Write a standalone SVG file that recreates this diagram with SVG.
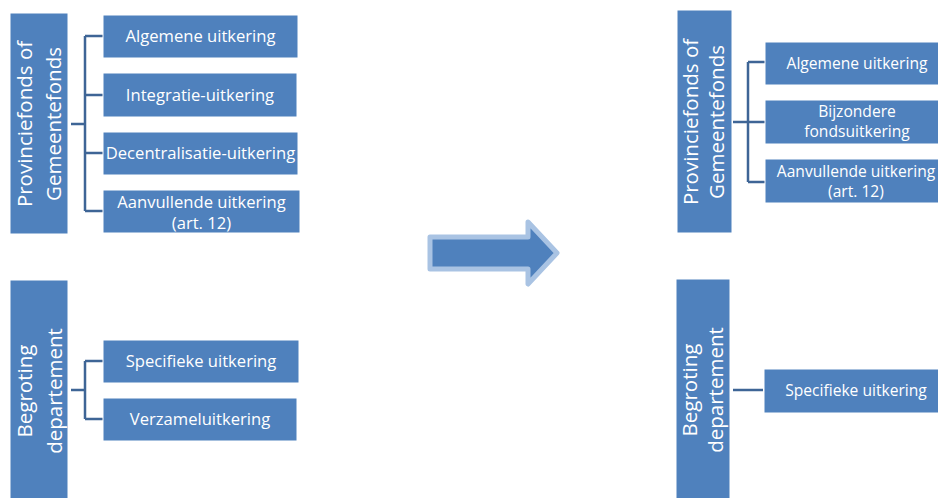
<svg xmlns="http://www.w3.org/2000/svg" width="938" height="498" viewBox="0 0 938 498">
<style>
.box{fill:#4F81BD;stroke:#FFFFFF;stroke-width:1}
.t{font-family:"Open Sans","Liberation Sans",sans-serif;font-size:16.6px;fill:#FFFFFF;text-anchor:middle}
.tr{font-family:"Open Sans","Liberation Sans",sans-serif;font-size:15.6px;fill:#FFFFFF;text-anchor:middle}
.v{font-family:"Open Sans","Liberation Sans",sans-serif;font-size:20.5px;fill:#FFFFFF;text-anchor:middle}
.c{fill:none;stroke:#3E6596;stroke-width:2.5}
</style>
<rect width="938" height="498" fill="#FFFFFF"/>
<g id="connectors">
<path class="c" d="M71,124 H85 M85,36 V211 M85,36 H103 M85,95 H103 M85,153 H103 M85,211 H103"/>
<path class="c" d="M71,390 H85 M85,361 V419 M85,361 H103 M85,419 H103"/>
<path class="c" d="M733,122 H748 M748,62 V182 M748,62 H765 M748,122 H765 M748,182 H765"/>
<path class="c" d="M733,390 H763"/>
</g>
<g id="left-provinciefonds">
<rect class="box" x="10" y="13" width="58" height="221"/>
<text class="v" transform="translate(32,124) rotate(-90)">Provinciefonds of</text>
<text class="v" transform="translate(61,124) rotate(-90)">Gemeentefonds</text>
</g>
<g id="left-algemene"><rect class="box" x="103" y="15" width="195" height="43"/><text class="t" x="200.5" y="42">Algemene uitkering</text></g>
<g id="left-integratie"><rect class="box" x="103" y="73" width="194" height="44"/><text class="t" x="200" y="100.5">Integratie-uitkering</text></g>
<g id="left-decentralisatie"><rect class="box" x="103" y="132" width="195" height="43"/><text class="t" x="200.5" y="159">Decentralisatie-uitkering</text></g>
<g id="left-aanvullende"><rect class="box" x="103" y="190" width="197" height="43"/><text class="t" x="201.5" y="207.5">Aanvullende uitkering</text><text class="t" x="201.5" y="228.5">(art. 12)</text></g>
<g id="left-begroting">
<rect class="box" x="10" y="280" width="58" height="220"/>
<text class="v" transform="translate(32,391) rotate(-90)">Begroting</text>
<text class="v" transform="translate(62,391) rotate(-90)">departement</text>
</g>
<g id="left-specifieke"><rect class="box" x="103" y="340" width="196" height="43"/><text class="t" x="201" y="367">Specifieke uitkering</text></g>
<g id="left-verzamel"><rect class="box" x="103" y="398" width="194" height="43"/><text class="t" x="200" y="425">Verzameluitkering</text></g>
<g id="arrow">
<path d="M430,237 H528 V222 L557,253 L528,284 V269 H430 Z" fill="#4F81BD" stroke="#A9C3E3" stroke-width="5" stroke-linejoin="round"/>
</g>
<g id="right-provinciefonds">
<rect class="box" x="677" y="10" width="55" height="223"/>
<text class="v" transform="translate(698,122) rotate(-90)">Provinciefonds of</text>
<text class="v" transform="translate(724,122) rotate(-90)">Gemeentefonds</text>
</g>
<g id="right-algemene"><rect class="box" x="765" y="42" width="184" height="43"/><text class="tr" x="857" y="69">Algemene uitkering</text></g>
<g id="right-bijzondere"><rect class="box" x="765" y="100" width="184" height="44"/><text class="tr" x="857" y="117">Bijzondere</text><text class="tr" x="857" y="137">fondsuitkering</text></g>
<g id="right-aanvullende"><rect class="box" x="765" y="159" width="184" height="44"/><text class="tr" x="856" y="177">Aanvullende uitkering</text><text class="tr" x="856" y="197">(art. 12)</text></g>
<g id="right-begroting">
<rect class="box" x="676" y="279" width="54" height="221"/>
<text class="v" transform="translate(697,390) rotate(-90)">Begroting</text>
<text class="v" transform="translate(723,390) rotate(-90)">departement</text>
</g>
<g id="right-specifieke"><rect class="box" x="764" y="369" width="184" height="44"/><text class="tr" x="856" y="396">Specifieke uitkering</text></g>
</svg>
